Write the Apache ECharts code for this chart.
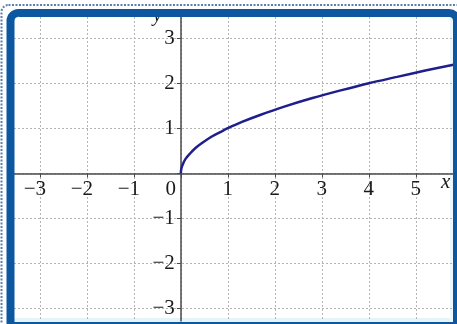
<!DOCTYPE html>
<html>
<head>
<meta charset="utf-8">
<style>
  html, body { margin: 0; padding: 0; background: #fff; }
  #chart { width: 457px; height: 324px; }
</style>
<script src="https://cdn.jsdelivr.net/npm/echarts@6/dist/echarts.min.js"></script>
</head>
<body>
<div id="chart"></div>
<script>
// Tick positions on each axis
const xTicks = [-3, -2, -1, 0, 1, 2, 3, 4, 5];
const yTicks = [-3, -2, -1, 0, 1, 2, 3];

// Points along the curve y = √x
const curveX = [0, 0.005, 0.02, 0.05, 0.1, 0.18, 0.3, 0.45, 0.65, 0.85, 1, 1.3, 1.7, 2.2, 2.8, 3.4, 4, 4.6, 5.2, 5.8];
const curveY = [0, 0.07, 0.14, 0.22, 0.32, 0.42, 0.55, 0.67, 0.81, 0.92, 1, 1.14, 1.3, 1.48, 1.67, 1.84, 2, 2.14, 2.28, 2.41];

// Visible window
const xMin = -3.55, xMax = 5.79;
const yMin = -3.28, yMax = 3.47;

const W = 457, H = 324;
const grid = { left: 14, right: 4, top: 17, bottom: 3 };
const plotW = W - grid.left - grid.right;
const plotH = H - grid.top - grid.bottom;

// Move the axes from the grid edges onto the origin
const xAxisOffset = -plotH * (0 - yMin) / (yMax - yMin);
const yAxisOffset = -plotW * (0 - xMin) / (xMax - xMin);

const serif = "'Liberation Serif', 'DejaVu Serif', serif";
const blue = '#0c57a0';
const ink = '#1a1a1a';
const gridLine = { color: '#b4b4b4', type: [2, 2], width: 1 };

const fmt = v => {
  if (v === 0) return '';
  return v < 0 ? '\u2212' + (-v) : String(v);
};

const chart = echarts.init(document.getElementById('chart'), null, { renderer: 'canvas' });

chart.setOption({
  animation: false,
  backgroundColor: '#fff',
  grid: Object.assign({ outerBoundsMode: 'none', containLabel: false }, grid),
  xAxis: {
    type: 'value',
    min: xMin,
    max: xMax,
    position: 'bottom',
    offset: xAxisOffset,
    axisLine: { onZero: false, lineStyle: { color: '#4a4a4a', width: 1.5 } },
    axisTick: { show: true, customValues: xTicks, length: 4, lineStyle: { color: '#4a4a4a' } },
    axisLabel: {
      customValues: xTicks,
      margin: 6,
      color: ink,
      fontFamily: serif,
      fontSize: 21,
      formatter: v => v === 0 ? '{z|0}' : (v < 0 ? '{n|' + fmt(v) + '}' : String(v)),
      rich: {
        z: { fontFamily: serif, fontSize: 21, color: ink, padding: [0, 20, 0, 0] },
        n: { fontFamily: serif, fontSize: 21, color: ink, padding: [0, 10, 0, 0] }
      }
    },
    splitLine: { show: true, lineStyle: gridLine }
  },
  yAxis: {
    type: 'value',
    min: yMin,
    max: yMax,
    position: 'left',
    offset: yAxisOffset,
    axisLine: { onZero: false, lineStyle: { color: '#4a4a4a', width: 1.5 } },
    axisTick: { show: true, customValues: yTicks, length: 4, lineStyle: { color: '#4a4a4a' } },
    axisLabel: {
      customValues: yTicks,
      margin: 6,
      color: ink,
      fontFamily: serif,
      fontSize: 21,
      formatter: fmt
    },
    splitLine: { show: true, lineStyle: gridLine }
  },
  series: [{
    type: 'line',
    data: curveX.map((x, i) => [x, curveY[i]]),
    smooth: 0.3,
    showSymbol: false,
    lineStyle: { color: '#1f1f8c', width: 2.5 }
  }],
  graphic: {
    elements: [
      // faint tint along the lower and right edges of the plot area
      { type: 'rect', z: -1, silent: true, shape: { x: 14, y: 318, width: 440, height: 4 }, style: { fill: '#e4f4fa' } },
      { type: 'rect', z: -1, silent: true, shape: { x: 450, y: 17, width: 4, height: 305 }, style: { fill: '#eef8fc' } },
      // axis names
      { type: 'text', z: 50, left: 153, top: 6, style: { text: 'y', font: 'italic 20px ' + serif, fill: ink } },
      { type: 'text', z: 50, left: 441, top: 172, style: { text: 'x', font: 'italic 21px ' + serif, fill: ink } },
      // dotted outer border
      { type: 'rect', z: 100, silent: true, shape: { x: 1.5, y: 5, width: 480, height: 340, r: [7, 7, 0, 0] },
        style: { fill: null, stroke: '#5a7fb0', lineWidth: 2, lineDash: [2, 1.5] } },
      // thick blue frame, rounded only at the top
      { type: 'rect', z: 100, silent: true, shape: { x: 10.5, y: 13, width: 446.5, height: 313, r: [8, 8, 0, 0] },
        style: { fill: null, stroke: blue, lineWidth: 8 } }
    ]
  }
});
</script>
</body>
</html>
